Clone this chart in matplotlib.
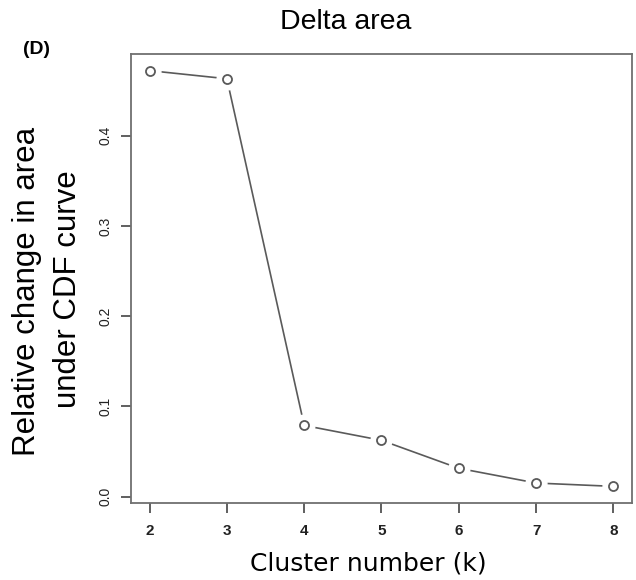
import matplotlib
matplotlib.use("Agg")
import matplotlib.pyplot as plt

k_values = [2, 3, 4, 5, 6, 7, 8]
delta_area = [0.472, 0.463, 0.079, 0.0625, 0.0315, 0.0152, 0.0115]
y_ticks = [0.0, 0.1, 0.2, 0.3, 0.4]
y_tick_labels = ["0.0", "0.1", "0.2", "0.3", "0.4"]

plt.rcParams['font.family'] = ['Liberation Sans', 'DejaVu Sans']

fig = plt.figure(figsize=(6.36, 5.8), dpi=100)
ax = fig.add_axes([131/636, 77/580, 501/636, 449/580])

line_col = "#5a5a5a"
ax.plot(k_values, delta_area, color=line_col, lw=1.2, zorder=2)
ax.plot(k_values, delta_area, ls="none", marker="o", ms=15, mfc="white", mec="white", zorder=3)
ax.plot(k_values, delta_area, ls="none", marker="o", ms=6.5, mfc="white", mec=line_col, mew=1.3, zorder=4)

ax.margins(x=0.04, y=0.04)
ax.set_xticks(k_values)
ax.set_xticklabels([str(k) for k in k_values], fontsize=11, fontweight="bold", color="#222222")
ax.set_yticks(y_ticks)
ax.set_yticklabels(y_tick_labels, rotation=90, va="center", fontsize=10, color="#222222")

for s in ax.spines.values():
    s.set_color("#707070")
    s.set_linewidth(1.3)
ax.tick_params(axis="both", length=7, width=1.2, color="#444444")
ax.tick_params(axis="x", pad=8)
ax.tick_params(axis="y", pad=6)

fig.text(346/636, 1 - 22/580, "Delta area", ha="center", va="center", fontsize=20.5)
fig.text(37/636, 1 - 50/580, "(D)", ha="center", va="center", fontsize=14, fontweight="bold")
fig.text(27/636, 1 - 291/580, "Relative change in area", rotation=90, ha="center", va="center", fontsize=22.5)
fig.text(68/636, 1 - 289/580, "under CDF curve", rotation=90, ha="center", va="center", fontsize=22.5)
fig.text(368/636, 1 - 563/580, "Cluster number (k)", ha="center", va="center", fontsize=18, family="DejaVu Sans")

fig.savefig("out.png", dpi=100)
